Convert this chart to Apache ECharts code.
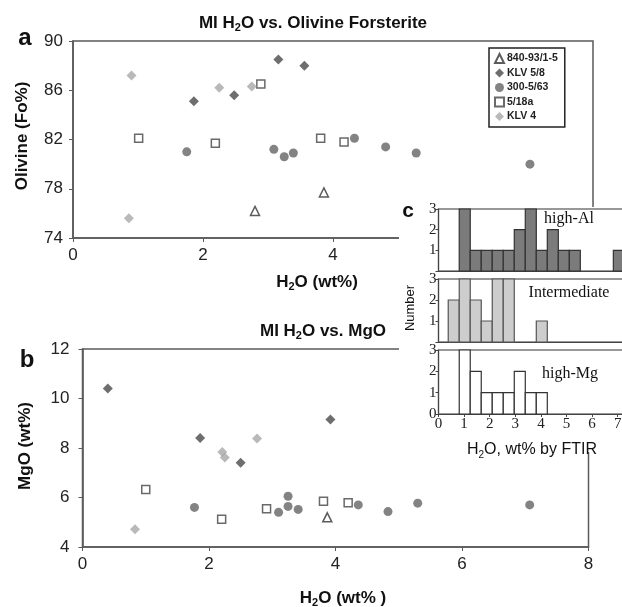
<!DOCTYPE html>
<html><head><meta charset="utf-8">
<script src="https://cdn.jsdelivr.net/npm/echarts@6/dist/echarts.min.js"></script>
<style>html,body{margin:0;padding:0;background:#fff}#c{width:622px;height:607px}</style>
</head><body><div id="c"></div>
<script>
// ---------- Panel a: MI H2O vs. Olivine Fo ----------
const aTri    = [[2.80,76.2],[3.86,77.7]];
const aKLV58  = [[1.86,85.1],[2.48,85.6],[3.16,88.5],[3.56,88.0]];
const aCirc   = [[1.75,81.0],[3.09,81.2],[3.25,80.6],[3.39,80.9],[4.33,82.1],[4.81,81.4],[5.28,80.9],[7.03,80.0]];
const aSq     = [[1.01,82.1],[2.19,81.7],[2.89,86.5],[3.81,82.1],[4.17,81.8]];
const aKLV4   = [[0.90,87.2],[0.86,75.6],[2.25,86.2],[2.75,86.3]];
// ---------- Panel b: MI H2O vs. MgO ----------
const bTri    = [[3.87,5.2]];
const bKLV58  = [[0.40,10.4],[1.86,8.4],[2.50,7.4],[3.92,9.15]];
const bCirc   = [[1.77,5.6],[3.10,5.4],[3.25,6.05],[3.25,5.64],[3.41,5.52],[4.36,5.7],[4.83,5.43],[5.30,5.77],[7.07,5.7]];
const bSq     = [[1.00,6.32],[2.20,5.12],[2.91,5.55],[3.81,5.85],[4.20,5.79]];
const bKLV4   = [[0.83,4.72],[2.21,7.84],[2.25,7.62],[2.76,8.38]];
const seriesNames = ['840-93/1-5','KLV 5/8','300-5/63','5/18a','KLV 4'];
const aYTicks = [74,78,82,86,90];
// ---------- Panel c: histograms ----------
const binEdges     = [0.38,0.81,1.24,1.67,2.10,2.53,2.96,3.39,3.82,4.25,4.68,5.11,5.54,5.97,6.40,6.83,7.26];
const highAl       = [0,3,1,1,1,1,2,3,1,2,1,1,0,0,0,1];
const intermediate = [2,3,2,1,3,3,0,0,1,0,0,0,0,0,0,0];
const highMg       = [0,3,2,1,1,1,2,1,1,0,0,0,0,0,0,0];

const SANS = '"Liberation Sans", Arial, sans-serif';
const SERIF = '"Liberation Serif", "Times New Roman", serif';

const styles = [
  {symbol:'triangle', symbolSize:9, itemStyle:{color:'#fff', borderColor:'#333', borderWidth:1.5}},
  {symbol:'diamond', symbolSize:10, itemStyle:{color:'#4a4a4a'}},
  {symbol:'circle', symbolSize:9, itemStyle:{color:'#646464'}},
  {symbol:'rect', symbolSize:8, itemStyle:{color:'#fff', borderColor:'#444', borderWidth:1.5}},
  {symbol:'diamond', symbolSize:10, itemStyle:{color:'#a8a8a8'}}
];
const aSets = [aTri, aKLV58, aCirc, aSq, aKLV4];
const bSets = [bTri, bKLV58, bCirc, bSq, bKLV4];

const series = [];
aSets.forEach((d,i)=>series.push(Object.assign({type:'scatter', name:seriesNames[i], xAxisIndex:0, yAxisIndex:0, data:d, z:3}, styles[i])));
bSets.forEach((d,i)=>series.push(Object.assign({type:'scatter', name:seriesNames[i], xAxisIndex:1, yAxisIndex:1, data:d, z:3}, styles[i])));

function histSeries(counts, idx, fill, stroke){
  const data = [];
  counts.forEach((c,i)=>{ if(c>0) data.push([binEdges[i], binEdges[i+1], c]); });
  return {type:'custom', xAxisIndex:idx, yAxisIndex:idx, z:62, data, encode:{x:[0,1], y:2},
    renderItem(params, api){
      const p0 = api.coord([api.value(0), api.value(2)]);
      const p1 = api.coord([api.value(1), 0]);
      return {type:'rect', shape:{x:p0[0], y:p0[1], width:p1[0]-p0[0], height:p1[1]-p0[1]},
        style:{fill:fill, stroke:stroke, lineWidth:1.2}};
    }};
}
series.push(histSeries(highAl, 2, '#7b7b7b', '#333'));
series.push(histSeries(intermediate, 3, '#cdcdcd', '#555'));
series.push(histSeries(highMg, 4, '#ffffff', '#333'));

const axLine = {lineStyle:{color:'#5a5a5a', width:1.6}};
function mainX(grid){ return {gridIndex:grid, type:'value', min:0, max:8, interval:2,
  axisLine:axLine, axisTick:{show:true, length:4, lineStyle:{color:'#5a5a5a'}},
  axisLabel:{fontSize:17, color:'#222', fontFamily:SANS, margin:9}, splitLine:{show:false}}; }
function cX(grid, labels){ return {gridIndex:grid, type:'value', min:0, max:8, interval:1, z:60,
  axisLine:{lineStyle:{color:'#444', width:1}}, axisTick:{show:labels, length:3, lineStyle:{color:'#444'}},
  axisLabel:{show:labels, fontSize:15, color:'#222', fontFamily:SERIF, margin:3}, splitLine:{show:false}}; }
function cY(grid, showZero){ return {gridIndex:grid, type:'value', min:0, max:3, interval:1, z:60,
  axisLine:{show:true, lineStyle:{color:'#444', width:1}}, axisTick:{show:true, length:3, lineStyle:{color:'#444'}},
  axisLabel:{fontSize:15, color:'#222', fontFamily:SERIF, margin:2, formatter:v=>(v===0&&!showZero)?'':String(v)},
  splitLine:{show:false}}; }

function txt(x, y, text, font, opts){
  return Object.assign({type:'text', x:x, y:y, z:100, style:Object.assign({text:text, font:font, fill:'#111',
    align:'center', textAlign:'center', verticalAlign:'middle', textVerticalAlign:'middle'}, (opts&&opts.style)||{})},
    opts&&opts.rotation?{rotation:opts.rotation}:{});
}
function subTxt(x, y, pre, post, size, weight, rot){
  return {type:'text', x:x, y:y, z:100, rotation:rot||0, style:{
    text:'{b|'+pre+'}{s|2}{b|'+post+'}', fill:'#111', align:'center', textAlign:'center',
    verticalAlign:'middle', textVerticalAlign:'middle',
    rich:{b:{fontSize:size, fontWeight:weight, fontFamily:SANS, lineHeight:size+4, fill:'#111'},
          s:{fontSize:Math.round(size*0.65), fontWeight:weight, fontFamily:SANS, lineHeight:Math.round(size*0.65)+2, verticalAlign:'bottom', fill:'#111'}}}};
}

const option = {
  backgroundColor:'#fff',
  animation:false,
  grid:[
    {left:73, top:41, width:520, height:197, show:true, borderColor:'#5a5a5a', borderWidth:1.5, outerBoundsMode:'none'},
    {left:82.5, top:349, width:506, height:198, show:true, borderColor:'#5a5a5a', borderWidth:1.5, outerBoundsMode:'none'},
    {left:438.5, top:209, width:204.8, height:62, show:true, borderColor:'#777', borderWidth:1.5, z:60, outerBoundsMode:'none'},
    {left:438.5, top:279, width:204.8, height:63, show:true, borderColor:'#777', borderWidth:1.5, z:60, outerBoundsMode:'none'},
    {left:438.5, top:350, width:204.8, height:64, show:true, borderColor:'#777', borderWidth:1.5, z:60, outerBoundsMode:'none'}
  ],
  xAxis:[ mainX(0), mainX(1), cX(2,false), cX(3,false), cX(4,true) ],
  yAxis:[
    {gridIndex:0, type:'value', min:74, max:90, axisLine:Object.assign({show:true},axLine),
      axisTick:{show:true, length:4, customValues:aYTicks, lineStyle:{color:'#5a5a5a'}},
      axisLabel:{fontSize:17, color:'#222', fontFamily:SANS, margin:10, customValues:aYTicks}, splitLine:{show:false}},
    {gridIndex:1, type:'value', min:4, max:12, interval:2, axisLine:Object.assign({show:true},axLine),
      axisTick:{show:true, length:4, lineStyle:{color:'#5a5a5a'}},
      axisLabel:{fontSize:17, color:'#222', fontFamily:SANS, margin:13}, splitLine:{show:false}},
    cY(2,false), cY(3,false), cY(4,true)
  ],
  legend:{data:seriesNames, left:489, top:48, orient:'vertical', itemWidth:9, itemHeight:9, itemGap:3.5,
    padding:[5,7,5,5], borderColor:'#222', borderWidth:1.5, backgroundColor:'#fff', selectedMode:false,
    textStyle:{fontSize:10.5, fontWeight:'bold', fontFamily:SANS, color:'#222', padding:[0,0,0,-2]}},
  graphic:[
    {type:'rect', z:50, shape:{x:399, y:207, width:223, height:245}, style:{fill:'#fff'}},
    subTxt(313, 23, 'MI H', 'O vs. Olivine Forsterite', 17, 'bold'),
    subTxt(323, 331, 'MI H', 'O vs. MgO', 17, 'bold'),
    subTxt(317, 282, 'H', 'O (wt%)', 17, 'bold'),
    subTxt(343, 598, 'H', 'O (wt% )', 17, 'bold'),
    txt(22, 136, 'Olivine (Fo%)', 'bold 17px '+SANS, {rotation:Math.PI/2}),
    txt(25, 446, 'MgO (wt%)', 'bold 17px '+SANS, {rotation:Math.PI/2}),
    txt(25, 38, 'a', 'bold 24px '+SANS),
    txt(27, 360, 'b', 'bold 24px '+SANS),
    txt(408, 211, 'c', 'bold 21px '+SANS),
    txt(410, 308, 'Number', '13px '+SANS, {rotation:Math.PI/2}),
    subTxt(532, 450, 'H', 'O, wt% by FTIR', 16, 'normal'),
    txt(569, 219, 'high-Al', '16px '+SERIF),
    txt(569, 293, 'Intermediate', '16px '+SERIF),
    txt(570, 374, 'high-Mg', '16px '+SERIF)
  ],
  series:series
};
const chart = echarts.init(document.getElementById('c'), null, {renderer:'canvas'});
chart.setOption(option);
</script></body></html>
